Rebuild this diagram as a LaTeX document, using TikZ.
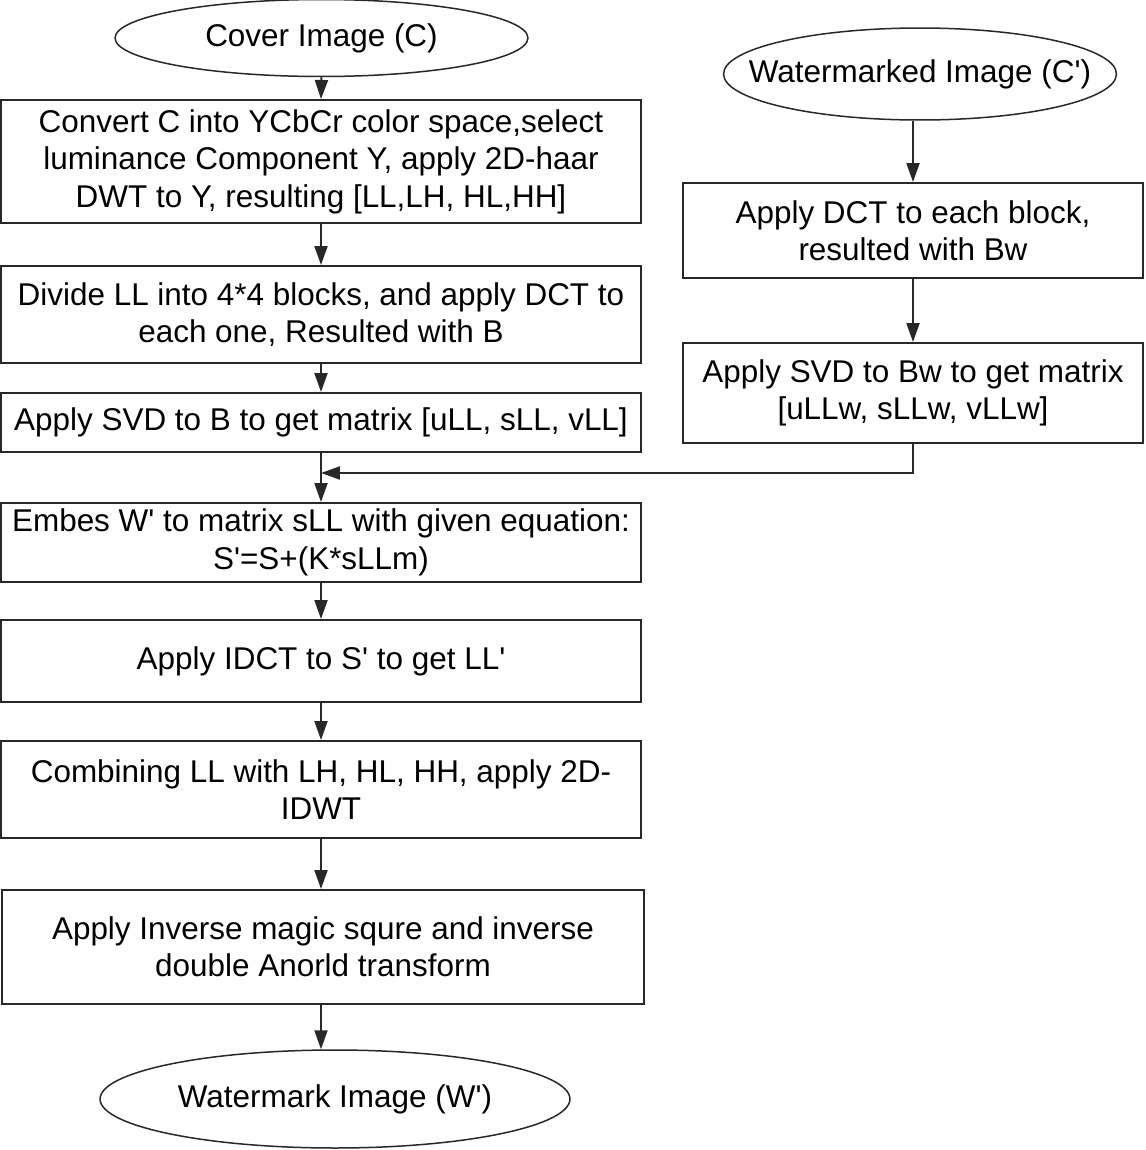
\documentclass[tikz,border=0pt]{standalone}
\usepackage{fontspec}
\newfontfamily\flowfont{Liberation Sans}
\usepackage{tikz,xcolor}
\usetikzlibrary{shapes.geometric,arrows.meta,calc}

\definecolor{inkgray}{RGB}{40,40,40}

\tikzset{
  procbox/.style={draw=inkgray, line width=0.04cm, rectangle, align=center, inner sep=0pt,
    font=\flowfont\fontsize{17.9}{21.3}\selectfont, text=black},
  termell/.style={draw=inkgray, line width=0.03cm, ellipse, inner sep=0pt,
    label={[font=\flowfont\fontsize{17.9}{21.3}\selectfont, text=black]center:#1}},
  flowarrow/.style={draw=inkgray, line width=0.04cm, -{Triangle[length=0.38cm,width=0.26cm]}}
}

\begin{document}
\begin{tikzpicture}[x=0.02cm, y=-0.02cm]

\useasboundingbox (0,0) rectangle (1146,1150);

  % Left column: embedding side
  \node[termell={Cover Image (C)}, minimum width=8.26cm, minimum height=1.54cm] (cover) at (321.5,38) {};
  \node[procbox, minimum width=12.8cm, minimum height=2.46cm] (bdwt) at (321,161.5)
    {Convert C into YCbCr color space,select\\ luminance Component Y, apply 2D-haar\\ DWT to Y, resulting [LL,LH, HL,HH]};
  \node[procbox, minimum width=12.8cm, minimum height=1.94cm] (bdct) at (321,314.5)
    {Divide LL into 4*4 blocks, and apply DCT to\\ each one, Resulted with B};
  \node[procbox, minimum width=12.8cm, minimum height=1.18cm] (bsvd) at (321,422.5)
    {Apply SVD to B to get matrix [uLL, sLL, vLL]};
  \node[procbox, minimum width=12.8cm, minimum height=1.58cm] (bembed) at (321,542.5)
    {Embes W' to matrix sLL with given equation:\\ S'=S+(K*sLLm)};
  \node[procbox, minimum width=12.8cm, minimum height=1.64cm] (bidct) at (321,661)
    {Apply IDCT to S' to get LL'};
  \node[procbox, minimum width=12.8cm, minimum height=1.94cm] (bidwt) at (321,789.5)
    {Combining LL with LH, HL, HH, apply 2D-\\ IDWT};
  \node[procbox, minimum width=12.84cm, minimum height=2.28cm] (binv) at (323,947)
    {Apply Inverse magic squre and inverse\\ double Anorld transform};
  \node[termell={Watermark Image (W')}, minimum width=9.4cm, minimum height=1.96cm] (wmark) at (335,1099) {};

  % Right column: watermarked image side
  \node[termell={Watermarked Image (C')}, minimum width=7.86cm, minimum height=1.84cm] (cwm) at (920,74) {};
  \node[procbox, minimum width=9.2cm, minimum height=1.9cm] (bdctw) at (913,230.5)
    {Apply DCT to each block,\\ resulted with Bw};
  \node[procbox, minimum width=9.2cm, minimum height=2.0cm] (bsvdw) at (913,393)
    {Apply SVD to Bw to get matrix\\ {[}uLLw, sLLw, vLLw{]}};

  \coordinate (merge) at (321,473);

  % Draw the connectors
  \draw[flowarrow] (cover.south) -- (bdwt.north);
  \draw[flowarrow] (bdwt.south) -- (bdct.north);
  \draw[flowarrow] (bdct.south) -- (bsvd.north);
  \draw[flowarrow] (bsvd.south) -- (bembed.north);
  \draw[flowarrow] (bembed.south) -- (bidct.north);
  \draw[flowarrow] (bidct.south) -- (bidwt.north);
  \draw[flowarrow] (bidwt.south) -- (bidwt.south |- binv.north);
  \draw[flowarrow] (bidwt.south |- binv.south) -- (bidwt.south |- wmark.north);

  \draw[flowarrow] (bdctw.north |- cwm.south) -- (bdctw.north);
  \draw[flowarrow] (bdctw.south) -- (bsvdw.north);
  \draw[flowarrow] (bsvdw.south) |- (merge);

\end{tikzpicture}
\end{document}
